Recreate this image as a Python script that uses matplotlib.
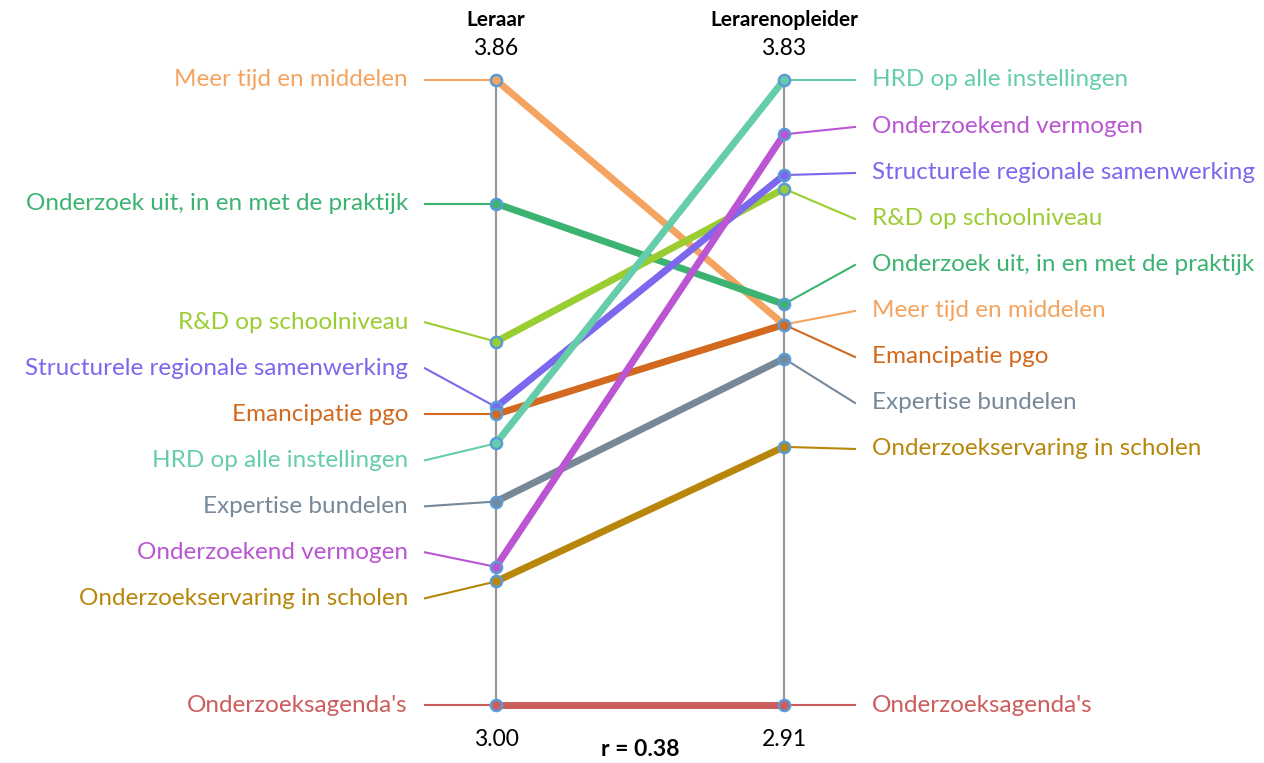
import numpy as np
import matplotlib
matplotlib.use("Agg")
from matplotlib import pyplot as plt

plt.rcParams["font.family"] = ["Lato", "DejaVu Sans"]

# data
items = [
    "Meer tijd en middelen",
    "Onderzoek uit, in en met de praktijk",
    "R&D op schoolniveau",
    "Structurele regionale samenwerking",
    "Emancipatie pgo",
    "HRD op alle instellingen",
    "Expertise bundelen",
    "Onderzoekend vermogen",
    "Onderzoekservaring in scholen",
    "Onderzoeksagenda's",
]
leraar = [3.86, 3.69, 3.50, 3.41, 3.40, 3.36, 3.28, 3.19, 3.17, 3.00]
opleider = [3.47, 3.50, 3.67, 3.69, 3.47, 3.83, 3.42, 3.75, 3.29, 2.91]
colors = [
    "#f4a460", "#3cb371", "#9acd32", "#7b68ee", "#d2691e",
    "#66cdaa", "#778899", "#ba55d3", "#b8860b", "#cd5c5c",
]
headers = ["Leraar", "Lerarenopleider"]
r_text = "r = 0.38"

W, H = 1264, 763
fig = plt.figure(figsize=(W / 100, H / 100), dpi=100)
# x=0 is the left axis, x=1 the right one; y runs 0..1 on each axis
ax = fig.add_axes([496 / W, (H - 705) / H, 288 / W, 625 / H])
ax.set_xlim(0, 1)
ax.set_ylim(0, 1)
ax.axis("off")

marker_edge = "#5b9bd5"
gap = 46 / 625  # label spacing in axis units


def norm(vals):
    v = np.asarray(vals, dtype=float)
    return (v - v.min()) / (v.max() - v.min())


def spread(y):
    # L1 isotonic fit so labels keep their order and stay `gap` apart
    order = np.argsort(-y, kind="stable")
    w = y[order] + gap * np.arange(len(y))
    blocks = []
    for val in w:
        blocks.append([val])
        while len(blocks) > 1 and np.median(blocks[-2]) < np.median(blocks[-1]):
            last = blocks.pop()
            blocks[-1].extend(last)
    u = np.concatenate([[np.median(b)] * len(b) for b in blocks])
    pos = np.empty_like(y)
    pos[order] = np.clip(u - gap * np.arange(len(y)), 0, 1)
    return pos


yl = norm(leraar)
yr = norm(opleider)
lab_l = spread(yl)
lab_r = spread(yr)

# axis lines
for x in (0, 1):
    ax.plot([x, x], [0, 1], color="#999999", lw=1.6, zorder=1, clip_on=False)

kin = 71 / 288
txt = 88 / 288
fs = 17.5
for i, name in enumerate(items):
    c = colors[i]
    ax.plot([0, 1], [yl[i], yr[i]], color=c, lw=5, solid_capstyle="butt",
            zorder=2, clip_on=False)
    ax.plot([-kin, 0], [lab_l[i], yl[i]], color=c, lw=1.5, zorder=2, clip_on=False)
    ax.plot([1, 1 + kin], [yr[i], lab_r[i]], color=c, lw=1.5, zorder=2, clip_on=False)
    ax.text(-txt, lab_l[i], name, color=c, fontsize=fs, ha="right", va="center")
    ax.text(1 + txt, lab_r[i], name, color=c, fontsize=fs, ha="left", va="center")

for i in range(len(items)):
    ax.plot([0, 1], [yl[i], yr[i]], ls="none", marker="o", ms=8,
            mfc=colors[i], mec=marker_edge, mew=1.8, zorder=4, clip_on=False)

for x, h in zip((0, 1), headers):
    ax.text(x, 1.096, h, fontsize=15, fontweight="bold", ha="center", va="center")
ax.text(0, 1.05, f"{max(leraar):.2f}", fontsize=16.5, ha="center", va="center")
ax.text(1, 1.05, f"{max(opleider):.2f}", fontsize=16.5, ha="center", va="center")
ax.text(0, -0.056, f"{min(leraar):.2f}", fontsize=16.5, ha="center", va="center")
ax.text(1, -0.056, f"{min(opleider):.2f}", fontsize=16.5, ha="center", va="center")
ax.text(0.5, -0.072, r_text, fontsize=16.5, fontweight="bold", ha="center", va="center")

fig.savefig("out.png", dpi=100)
